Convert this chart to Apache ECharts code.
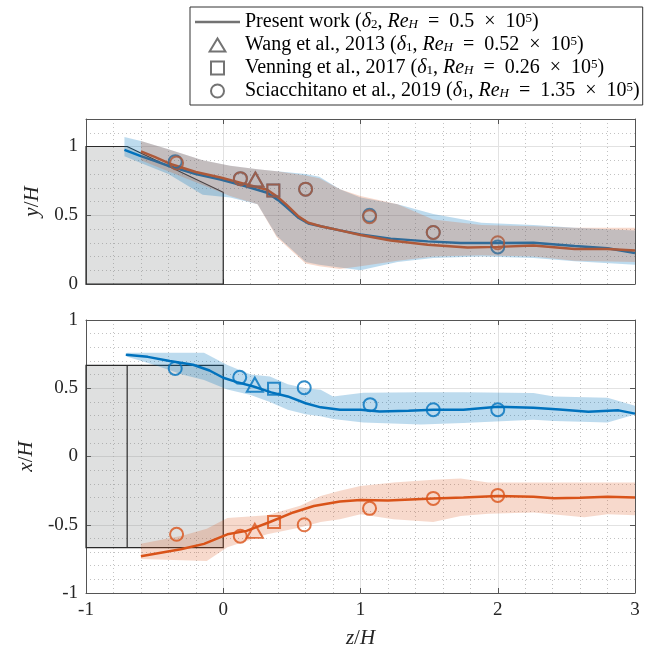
<!DOCTYPE html>
<html>
<head>
<meta charset="utf-8">
<script src="https://cdn.jsdelivr.net/npm/echarts@6/dist/echarts.min.js"></script>
<style>html,body{margin:0;padding:0;background:#fff}#main{width:656px;height:652px}</style>
</head>
<body>
<div id="main"></div>
<script>
var BLUE = "#0072BD", ORANGE = "#D95319";
var FONT = "Liberation Serif";

// top panel (y/H) - lines
var topBlueZ = [-0.72, -0.6, -0.5, -0.39, -0.2, -0.02, 0.15, 0.32, 0.4, 0.46, 0.55, 0.62, 0.71, 0.85, 1.0, 1.22, 1.49, 1.73, 2.0, 2.26, 2.56, 2.8, 3.0];
var topBlueY = [0.975, 0.93, 0.895, 0.856, 0.8, 0.76, 0.715, 0.664, 0.61, 0.56, 0.48, 0.44, 0.42, 0.39, 0.36, 0.33, 0.31, 0.298, 0.298, 0.3, 0.277, 0.26, 0.226];
var topOrangeZ = [-0.6, -0.5, -0.39, -0.2, -0.02, 0.15, 0.32, 0.4, 0.46, 0.55, 0.62, 0.71, 0.85, 1.0, 1.22, 1.49, 1.78, 2.0, 2.26, 2.56, 2.8, 3.0];
var topOrangeY = [0.965, 0.925, 0.875, 0.815, 0.774, 0.73, 0.686, 0.63, 0.577, 0.49, 0.445, 0.42, 0.39, 0.357, 0.316, 0.285, 0.265, 0.27, 0.28, 0.255, 0.255, 0.243];
// top panel - bands
var topBlueBandZ = [-0.72, -0.6, -0.4, -0.15, 0.05, 0.25, 0.39, 0.6, 0.7, 0.85, 1.0, 1.27, 1.53, 1.88, 2.26, 2.56, 3.0];
var topBlueBandHi = [1.07, 1.04, 0.98, 0.9, 0.86, 0.835, 0.82, 0.8, 0.78, 0.69, 0.63, 0.58, 0.51, 0.445, 0.43, 0.41, 0.39];
var topBlueBandLo = [0.93, 0.88, 0.8, 0.65, 0.63, 0.58, 0.35, 0.16, 0.14, 0.12, 0.1, 0.16, 0.19, 0.2, 0.19, 0.165, 0.14];
var topOrangeBandZ = [-0.6, -0.4, -0.15, 0.05, 0.25, 0.39, 0.6, 0.7, 0.85, 1.0, 1.27, 1.53, 1.88, 2.26, 2.56, 3.0];
var topOrangeBandHi = [1.04, 0.98, 0.9, 0.86, 0.835, 0.82, 0.79, 0.77, 0.69, 0.64, 0.58, 0.47, 0.43, 0.42, 0.41, 0.41];
var topOrangeBandLo = [0.9, 0.82, 0.72, 0.64, 0.58, 0.34, 0.15, 0.13, 0.11, 0.13, 0.17, 0.2, 0.21, 0.2, 0.17, 0.16];
// top panel - reference data
var topCircBlue = [[-0.35, 0.89], [0.125, 0.766], [0.6, 0.69], [1.066, 0.5], [1.53, 0.375], [2.0, 0.27]];
var topCircOrange = [[-0.34, 0.88], [0.125, 0.766], [0.6, 0.69], [1.066, 0.49], [1.53, 0.375], [2.0, 0.3]];
var topTri = [[0.234, 0.76]];
var topSq = [[0.365, 0.68]];

// bottom panel (x/H) - lines
var botBlueZ = [-0.71, -0.55, -0.39, -0.22, -0.1, 0.0, 0.1, 0.22, 0.35, 0.47, 0.6, 0.71, 0.85, 1.0, 1.14, 1.35, 1.53, 1.75, 2.0, 2.26, 2.45, 2.66, 2.88, 3.0];
var botBlueX = [0.745, 0.73, 0.7, 0.672, 0.63, 0.577, 0.545, 0.513, 0.47, 0.44, 0.39, 0.36, 0.343, 0.343, 0.33, 0.335, 0.343, 0.343, 0.365, 0.357, 0.345, 0.328, 0.338, 0.314];
var botOrangeZ = [-0.6, -0.31, -0.14, 0.03, 0.17, 0.34, 0.51, 0.66, 0.85, 1.0, 1.2, 1.53, 1.75, 2.0, 2.26, 2.41, 2.6, 2.8, 3.0];
var botOrangeX = [-0.73, -0.68, -0.64, -0.57, -0.545, -0.48, -0.41, -0.363, -0.33, -0.319, -0.322, -0.307, -0.3, -0.29, -0.294, -0.305, -0.303, -0.294, -0.3];
// bottom panel - bands
var botBlueBandZ = [-0.7, -0.5, -0.3, -0.14, 0.03, 0.2, 0.34, 0.47, 0.6, 0.71, 0.8, 1.02, 1.44, 1.75, 2.26, 2.41, 2.8, 3.0];
var botBlueBandHi = [0.76, 0.76, 0.76, 0.76, 0.67, 0.6, 0.586, 0.53, 0.5, 0.489, 0.44, 0.467, 0.47, 0.47, 0.465, 0.44, 0.43, 0.372];
var botBlueBandLo = [0.73, 0.67, 0.6, 0.56, 0.49, 0.45, 0.4, 0.343, 0.31, 0.294, 0.275, 0.25, 0.234, 0.245, 0.27, 0.26, 0.25, 0.307];
var botOrangeBandZ = [-0.6, -0.3, -0.12, 0.03, 0.32, 0.56, 0.71, 0.85, 1.0, 1.24, 1.53, 1.73, 1.93, 2.26, 2.63, 2.8, 3.0];
var botOrangeBandHi = [-0.64, -0.58, -0.53, -0.45, -0.43, -0.36, -0.29, -0.25, -0.217, -0.19, -0.17, -0.161, -0.19, -0.19, -0.19, -0.19, -0.19];
var botOrangeBandLo = [-0.75, -0.76, -0.765, -0.664, -0.57, -0.52, -0.48, -0.46, -0.423, -0.46, -0.48, -0.435, -0.42, -0.41, -0.445, -0.423, -0.43];
// bottom panel - reference data
var botCircBlue = [[-0.35, 0.645], [0.12, 0.58], [0.59, 0.504], [1.07, 0.38], [1.53, 0.343], [2.0, 0.343]];
var botTriBlue = [[0.23, 0.526]];
var botSqBlue = [[0.37, 0.496]];
var botCircOrange = [[-0.34, -0.57], [0.124, -0.584], [0.59, -0.5], [1.066, -0.38], [1.53, -0.307], [2.0, -0.285]];
var botTriOrange = [[0.23, -0.545]];
var botSqOrange = [[0.37, -0.48]];

// building outlines
var bldgTopZ = [-1, -1, -0.7, 0, 0];
var bldgTopY = [0, 1, 1, 0.667, 0];
var bldgBotZ = [-1, -1, 0, 0];
var bldgBotX = [-0.667, 0.667, 0.667, -0.667];
var bldgBotEdgeZ = -0.7;

var legendNames = ["Present work", "Wang et al., 2013", "Venning et al., 2017", "Sciacchitano et al., 2019"];
var legendText = {
  "Present work": "Present work ({i|δ}{sub|2}, {i|Re}{isub|H}\u2002=\u20020.5\u2002×\u200210{sup|5})",
  "Wang et al., 2013": "Wang et al., 2013 ({i|δ}{sub|1}, {i|Re}{isub|H}\u2002=\u20020.52\u2002×\u200210{sup|5})",
  "Venning et al., 2017": "Venning et al., 2017 ({i|δ}{sub|1}, {i|Re}{isub|H}\u2002=\u20020.26\u2002×\u200210{sup|5})",
  "Sciacchitano et al., 2019": "Sciacchitano et al., 2019 ({i|δ}{sub|1}, {i|Re}{isub|H}\u2002=\u20021.35\u2002×\u200210{sup|5})"
};

function pairs(a, b) {
  var out = [];
  for (var i = 0; i < a.length; i++) out.push([a[i], b[i]]);
  return out;
}

var AX = "#555", GRID = "#e2e2e2", MINOR = "#c2c2c2", TXT = "#262626";

function polySeries(xi, yi, zs, ys, style, z) {
  return {
    type: "custom", xAxisIndex: xi, yAxisIndex: yi, z: z, silent: true,
    data: [[zs[0], ys[0]]],
    renderItem: function(params, api) {
      var pts = [];
      for (var i = 0; i < zs.length; i++) pts.push(api.coord([zs[i], ys[i]]));
      return { type: "polygon", shape: { points: pts }, style: style };
    }
  };
}
function bandSeries(xi, yi, zs, lo, hi, color, z) {
  var bz = zs.concat(zs.slice().reverse());
  var by = hi.concat(lo.slice().reverse());
  return polySeries(xi, yi, bz, by, { fill: color }, z);
}
function lineSeries(xi, yi, zs, ys, color, z) {
  return {
    type: "line", xAxisIndex: xi, yAxisIndex: yi, z: z, silent: true,
    data: pairs(zs, ys), symbol: "none",
    lineStyle: { color: color, width: 2.5 }
  };
}
function markSeries(xi, yi, data, symbol, size, color, z) {
  return {
    type: "scatter", xAxisIndex: xi, yAxisIndex: yi, z: z, silent: true,
    data: data, symbol: symbol, symbolSize: size,
    itemStyle: { color: "rgba(0,0,0,0)", borderColor: color, borderWidth: 2 }
  };
}

var labelStyle = { fontFamily: FONT, fontSize: 19, color: TXT, margin: 8 };
var nameStyle = {
  fontFamily: FONT, fontSize: 21, color: TXT,
  rich: { i: { fontFamily: FONT, fontSize: 21, fontStyle: "italic", color: TXT } }
};
function xAx(grid, pos, labels) {
  var a = {
    type: "value", gridIndex: grid, position: pos, min: -1, max: 3, interval: 1,
    axisLine: { show: true, onZero: false, lineStyle: { color: AX, width: 1 } },
    axisTick: { show: true, inside: true, length: 5, lineStyle: { color: AX } },
    axisLabel: labels ? labelStyle : { show: false },
    splitLine: { show: false }
  };
  if (pos === "bottom") {
    a.splitLine = { show: true, lineStyle: { color: GRID, width: 1 } };
    a.minorTick = { show: false, splitNumber: 5 };
    a.minorSplitLine = { show: true, lineStyle: { color: MINOR, width: 1, type: [1, 3] } };
  }
  return a;
}
function yAx(grid, pos, min, max) {
  return {
    type: "value", gridIndex: grid, position: pos, min: min, max: max, interval: 0.5,
    axisLine: { show: true, onZero: false, lineStyle: { color: AX, width: 1 } },
    axisTick: { show: true, inside: true, length: 5, lineStyle: { color: AX } },
    axisLabel: { show: false },
    splitLine: { show: false }
  };
}

var xAxes = [xAx(0, "bottom", false), xAx(0, "top", false), xAx(1, "bottom", true), xAx(1, "top", false)];
xAxes[2].name = "{i|z}/{i|H}";
xAxes[2].nameLocation = "middle";
xAxes[2].nameGap = 35;
xAxes[2].nameTextStyle = nameStyle;

var yTopL = yAx(0, "left", 0, 1.2);
yTopL.axisLabel = Object.assign({ showMaxLabel: false }, labelStyle);
yTopL.splitLine = { show: true, lineStyle: { color: GRID, width: 1 } };
yTopL.name = "{i|y}/{i|H}";
yTopL.nameLocation = "middle";
yTopL.nameRotate = 90;
yTopL.nameGap = 38;
yTopL.nameTextStyle = nameStyle;
var yTopR = yAx(0, "right", 0, 1.2);
var T = "rgba(0,0,0,0)";
var yTopMinor = {
  type: "value", gridIndex: 0, position: "left", min: 0, max: 1.2, interval: 0.1,
  axisLine: { show: false }, axisTick: { show: false }, axisLabel: { show: false },
  splitLine: { show: true, lineStyle: { width: 1, type: [1, 3],
    color: [T, MINOR, MINOR, MINOR, MINOR, T, MINOR, MINOR, MINOR, MINOR, T, MINOR, T] } }
};
var yBotL = yAx(1, "left", -1, 1);
yBotL.axisLabel = labelStyle;
yBotL.splitLine = { show: true, lineStyle: { color: GRID, width: 1 } };
yBotL.minorTick = { show: false, splitNumber: 5 };
yBotL.minorSplitLine = { show: true, lineStyle: { color: MINOR, width: 1, type: [1, 3] } };
yBotL.name = "{i|x}/{i|H}";
yBotL.nameLocation = "middle";
yBotL.nameRotate = 90;
yBotL.nameGap = 38;
yBotL.nameTextStyle = nameStyle;
var yBotR = yAx(1, "right", -1, 1);

var BLUE_BAND = "rgba(0,114,189,0.26)", ORANGE_BAND = "rgba(217,83,25,0.22)";
var BLDG = { fill: "rgba(120,125,125,0.24)", stroke: "#2a2a2a", lineWidth: 1.2 };

var series = [];
// top panel
series.push(polySeries(0, 0, bldgTopZ, bldgTopY, BLDG, 1));
series.push(lineSeries(0, 0, topBlueZ, topBlueY, BLUE, 2));
series.push(lineSeries(0, 0, topOrangeZ, topOrangeY, ORANGE, 2));
series.push(markSeries(0, 0, topCircBlue, "circle", 13, BLUE, 2));
series.push(markSeries(0, 0, topTri, "triangle", [16, 14], BLUE, 2));
series.push(markSeries(0, 0, topSq, "rect", 12, BLUE, 2));
series.push(markSeries(0, 0, topCircOrange, "circle", 13, ORANGE, 2));
series.push(markSeries(0, 0, topTri, "triangle", [16, 14], ORANGE, 2));
series.push(markSeries(0, 0, topSq, "rect", 12, ORANGE, 2));
series.push(bandSeries(0, 0, topBlueBandZ, topBlueBandLo, topBlueBandHi, BLUE_BAND, 3));
series.push(bandSeries(0, 0, topOrangeBandZ, topOrangeBandLo, topOrangeBandHi, ORANGE_BAND, 3));
// bottom panel
series.push({
  type: "custom", xAxisIndex: 2, yAxisIndex: 3, z: 1, silent: true,
  data: [[bldgBotZ[0], bldgBotX[0]]],
  renderItem: function(params, api) {
    var pts = [];
    for (var i = 0; i < bldgBotZ.length; i++) pts.push(api.coord([bldgBotZ[i], bldgBotX[i]]));
    var a = api.coord([bldgBotEdgeZ, bldgBotX[0]]), b = api.coord([bldgBotEdgeZ, bldgBotX[1]]);
    return { type: "group", children: [
      { type: "polygon", shape: { points: pts }, style: BLDG },
      { type: "line", shape: { x1: a[0], y1: a[1], x2: b[0], y2: b[1] }, style: { stroke: "#2a2a2a", lineWidth: 1.2 } }
    ] };
  }
});
series.push(bandSeries(2, 3, botBlueBandZ, botBlueBandLo, botBlueBandHi, BLUE_BAND, 2));
series.push(bandSeries(2, 3, botOrangeBandZ, botOrangeBandLo, botOrangeBandHi, ORANGE_BAND, 2));
series.push(lineSeries(2, 3, botBlueZ, botBlueX, BLUE, 3));
series.push(lineSeries(2, 3, botOrangeZ, botOrangeX, ORANGE, 3));
series.push(markSeries(2, 3, botCircBlue, "circle", 13, BLUE, 3));
series.push(markSeries(2, 3, botTriBlue, "triangle", [16, 14], BLUE, 3));
series.push(markSeries(2, 3, botSqBlue, "rect", 12, BLUE, 3));
series.push(markSeries(2, 3, botCircOrange, "circle", 13, ORANGE, 3));
series.push(markSeries(2, 3, botTriOrange, "triangle", [16, 14], ORANGE, 3));
series.push(markSeries(2, 3, botSqOrange, "rect", 12, ORANGE, 3));
// legend entries
legendNames.forEach(function(n) {
  series.push({ type: "line", name: n, xAxisIndex: 2, yAxisIndex: 3, data: [], symbol: "none" });
});

var GRAY = "#737373";
var legendIcons = ["path://M0,0H88V5H0Z", "path://M0,14L8.5,0L17,14Z", "path://M0,0H12V12H0Z", "circle"];
var legendData = legendNames.map(function(n, i) {
  var st = i === 0 ? { color: GRAY, borderWidth: 0 } : { color: "rgba(0,0,0,0)", borderColor: GRAY, borderWidth: 2 };
  return { name: n, icon: legendIcons[i], itemStyle: st };
});

var myChart = echarts.init(document.getElementById("main"));
var option = {
  animation: false,
  backgroundColor: "#fff",
  grid: [
    { left: 86, top: 119, width: 549, height: 165, outerBoundsMode: "none" },
    { left: 86, top: 320, width: 549, height: 273, outerBoundsMode: "none" }
  ],
  legend: {
    show: true, left: 190, top: 7, orient: "vertical", selectedMode: false,
    backgroundColor: "#fff", borderColor: "#333", borderWidth: 1,
    padding: [5, 3, 4, 5], itemGap: 3, itemWidth: 45, itemHeight: 13,
    textStyle: {
      fontFamily: FONT, fontSize: 20, color: "#000", lineHeight: 19,
      rich: {
        i: { fontFamily: FONT, fontSize: 20, fontStyle: "italic", color: "#000" },
        sub: { fontFamily: FONT, fontSize: 13, lineHeight: 12, verticalAlign: "bottom", color: "#000" },
        isub: { fontFamily: FONT, fontSize: 13, lineHeight: 12, fontStyle: "italic", verticalAlign: "bottom", color: "#000" },
        sup: { fontFamily: FONT, fontSize: 13, lineHeight: 12, verticalAlign: "top", color: "#000" }
      }
    },
    formatter: function(name) { return legendText[name]; },
    data: legendData
  },
  xAxis: xAxes,
  yAxis: [yTopL, yTopR, yTopMinor, yBotL, yBotR],
  series: series
};
myChart.setOption(option);
</script>
</body>
</html>
